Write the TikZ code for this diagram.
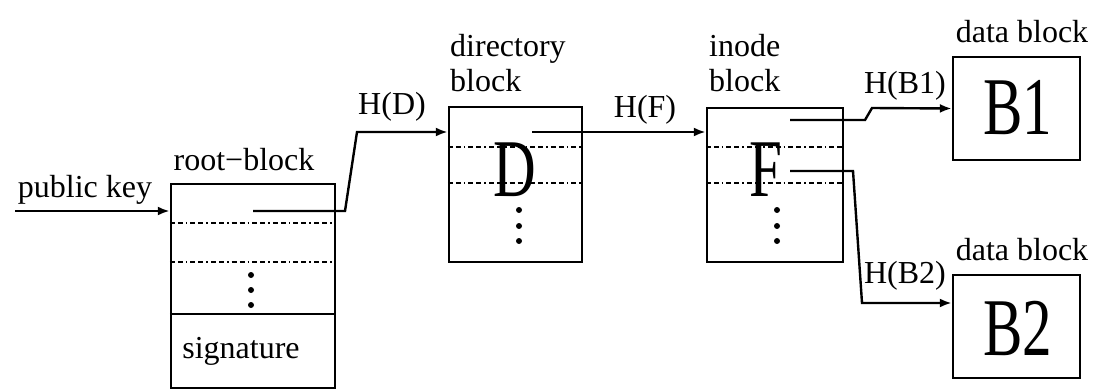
\documentclass[tikz,border=0pt]{standalone}
\usepackage{fontspec}
\setmainfont{Liberation Serif}
\usetikzlibrary{arrows.meta}

\begin{document}
\begin{tikzpicture}[x=0.5pt, y=-0.5pt, line width=1.2pt, >={Latex[length=6pt,width=4.5pt]},
  every node/.style={font=\fontsize{16}{17.5}\selectfont, inner sep=0pt},
  blk/.style={draw, rectangle},
  sep/.style={line width=1pt, dash pattern=on 2.5pt off 1.5pt on 2.5pt off 1.5pt on 0.8pt off 1.5pt},
  big/.style={font=\fontsize{41}{41}\selectfont}]
  % 自验证文件系统：根块、目录块、inode 块与数据块
  \useasboundingbox (0,0) rectangle (1095,390);

  \node[blk, minimum width=82pt, minimum height=102pt] (root) at (253,286) {};
  \node[blk, minimum width=66.5pt, minimum height=77.5pt] (dir) at (515.5,184.5) {};
  \node[blk, minimum width=68pt, minimum height=77pt] (inode) at (775,185) {};
  \node[blk, minimum width=63.5pt, minimum height=51.5pt] (b1) at (1016.5,108.5) {};
  \node[blk, minimum width=63.5pt, minimum height=51.5pt] (b2) at (1016.5,326.5) {};

  % 块内分隔线
  \draw[sep] (root.west |- 0,223) -- (root.east |- 0,223);
  \draw[sep] (root.west |- 0,262) -- (root.east |- 0,262);
  \draw (root.west |- 0,314) -- (root.east |- 0,314);
  \draw[sep] (dir.west |- 0,147) -- (dir.east |- 0,147);
  \draw[sep] (dir.west |- 0,183) -- (dir.east |- 0,183);
  \draw[sep] (inode.west |- 0,147) -- (inode.east |- 0,147);
  \draw[sep] (inode.west |- 0,183) -- (inode.east |- 0,183);

  \foreach \y in {275,290,305} \fill (251,\y) circle[radius=1.5pt];
  \foreach \y in {210,226,241} \fill (519,\y) circle[radius=1.5pt];
  \foreach \y in {210,226,241} \fill (777,\y) circle[radius=1.5pt];

  % 文字
  \node (pklbl) at (85,190) {public key};
  \node (rootlbl) at (244,160) {root−block};
  \node (sig) at (241,351) {signature};
  \node[anchor=south west, align=left] (dirlbl) at (449,93) {directory\\block};
  \node[anchor=south west, align=left] (inodelbl) at (708,93) {inode\\block};
  \node (d1lbl) at (1022,32) {data block};
  \node (d2lbl) at (1022,250) {data block};
  \node (hd) at (392,107) {H(D)};
  \node (hf) at (645,110) {H(F)};
  \node (hb1) at (905,86) {H(B1)};
  \node (hb2) at (905,276) {H(B2)};

  \node[big] (dtxt) at (515,170) {\scalebox{0.72}[1]{D}};
  \node[big] (ftxt) at (766,170) {\scalebox{0.72}[1]{F}};
  \node[big] (b1txt) at (1018,108) {\scalebox{0.72}[1]{B1}};
  \node[big] (b2txt) at (1018,328) {\scalebox{0.72}[1]{B2}};

  % 指针
  \coordinate (pkin) at (15,211);
  \draw[->] (pkin) -- (root.west |- pkin);
  \coordinate (rs) at (253,211);
  \draw[->] (rs) -- (345,211) -- (357,132) -- (dir.west |- 0,132);
  \coordinate (ds) at (532,132);
  \draw[->] (ds) -- (inode.west |- ds);
  \coordinate (f1) at (790,120);
  \draw[->] (f1) -- (865,120) -- (872,108) -- (b1.west);
  \coordinate (f2) at (790,171);
  \draw[->] (f2) -- (853,171) -- (862,303) -- (b2.west |- 0,303);
\end{tikzpicture}
\end{document}
